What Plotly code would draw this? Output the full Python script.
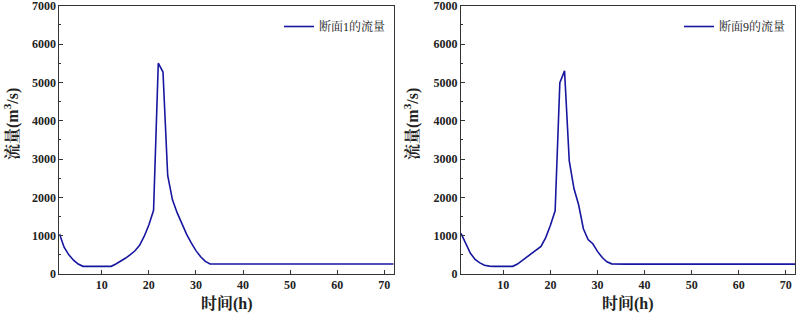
import plotly.graph_objects as go

hours = list(range(1, 73))

flow_sec1_head = [1050, 700, 500, 360, 260, 200, 200, 200, 200, 200, 200, 200,
                  260, 330, 410, 500, 600, 740, 980, 1280, 1660, 5500, 5270,
                  2570, 1940, 1600, 1310, 1040, 810, 610, 450, 330, 260]
flow_sec1_tail_value = 260
flow_sec1 = flow_sec1_head + [flow_sec1_tail_value] * (len(hours) - len(flow_sec1_head))

flow_sec9_head = [1060, 780, 540, 380, 290, 230, 205, 200, 200, 200, 200, 200,
                  260, 350, 440, 530, 620, 720, 950, 1270, 1650, 4990, 5300,
                  2950, 2230, 1800, 1180, 900, 790, 590, 430, 320, 265, 258]
flow_sec9_tail_value = 258
flow_sec9 = flow_sec9_head + [flow_sec9_tail_value] * (len(hours) - len(flow_sec9_head))

name1 = "断面1的流量"
name9 = "断面9的流量"
x_title = "时间(h)"
y_title = "流量(m<sup>3</sup>/s)"
y_ticks = [0, 1000, 2000, 3000, 4000, 5000, 6000, 7000]
x_ticks = [10, 20, 30, 40, 50, 60, 70]

W, H = 796, 317
line_color = "#1616a0"
axis_color = "#333333"
FONT = "Liberation Serif, Noto Serif CJK SC, Noto Sans CJK SC, serif"

fig = go.Figure()
fig.add_trace(go.Scatter(x=hours, y=flow_sec1, mode="lines", name=name1, showlegend=True,
                         line=dict(color=line_color, width=1.6),
                         xaxis="x", yaxis="y", legend="legend"))
fig.add_trace(go.Scatter(x=hours, y=flow_sec9, mode="lines", name=name9, showlegend=True,
                         line=dict(color=line_color, width=1.6),
                         xaxis="x2", yaxis="y2", legend="legend2"))

ydom = [43 / H, 311.3 / H]
xdom1 = [59.4 / W, 393.7 / W]
xdom2 = [461.0 / W, 795.2 / W]

def xax(dom, anchor):
    return dict(domain=dom, anchor=anchor, range=[1, 72], tickvals=x_ticks,
                automargin=False, ticklabeloverflow="allow",
                showgrid=False, zeroline=False, showline=True, linecolor=axis_color,
                linewidth=1, mirror=True, ticks="inside", ticklen=4, tickcolor=axis_color,
                tickfont=dict(family=FONT, size=12, color="#222", weight="bold"))

def yax(anchor):
    return dict(domain=ydom, anchor=anchor, range=[0, 7000], tickvals=y_ticks,
                automargin=False, ticklabeloverflow="allow",
                showgrid=False, zeroline=False, showline=True, linecolor=axis_color,
                linewidth=1, mirror=True, ticks="inside", ticklen=4, tickcolor=axis_color,
                minor=dict(tickvals=[500, 1500, 2500, 3500, 4500, 5500, 6500],
                           ticks="inside", ticklen=2, tickcolor=axis_color),
                tickfont=dict(family=FONT, size=12, color="#222", weight="bold"))

title_font = dict(family=FONT, size=16, color="#222", weight="bold")

fig.update_layout(
    width=W, height=H, margin=dict(l=0, r=0, t=0, b=0, autoexpand=False),
    paper_bgcolor="white", plot_bgcolor="white", showlegend=True,
    xaxis=xax(xdom1, "y"), yaxis=yax("x"),
    xaxis2=xax(xdom2, "y2"), yaxis2=yax("x2"),
    legend=dict(x=391 / W, y=(H - 12) / H, xanchor="right", yanchor="top",
                bgcolor="rgba(0,0,0,0)", itemwidth=30, visible=True,
                font=dict(family=FONT, size=12, color="#222")),
    legend2=dict(x=791 / W, y=(H - 12) / H, xanchor="right", yanchor="top",
                 bgcolor="rgba(0,0,0,0)", itemwidth=30, visible=True,
                 font=dict(family=FONT, size=12, color="#222")),
    annotations=[
        dict(text=x_title, x=(xdom1[0] + xdom1[1]) / 2, y=(H - 303) / H, xref="paper", yref="paper",
             xanchor="center", yanchor="middle",
             showarrow=False, font=title_font),
        dict(text=x_title, x=(xdom2[0] + xdom2[1]) / 2, y=(H - 303) / H, xref="paper", yref="paper",
             xanchor="center", yanchor="middle",
             showarrow=False, font=title_font),
        dict(text=y_title, x=11 / W, y=(H - 124) / H, xref="paper", yref="paper",
             xanchor="center", yanchor="middle",
             textangle=-90, showarrow=False, font=title_font),
        dict(text=y_title, x=411 / W, y=(H - 124) / H, xref="paper", yref="paper",
             xanchor="center", yanchor="middle",
             textangle=-90, showarrow=False, font=title_font),
    ],
)

fig.write_html("out.html", config={"displayModeBar": False},
               post_script="document.body.style.margin='0';document.body.style.overflow='hidden';")
